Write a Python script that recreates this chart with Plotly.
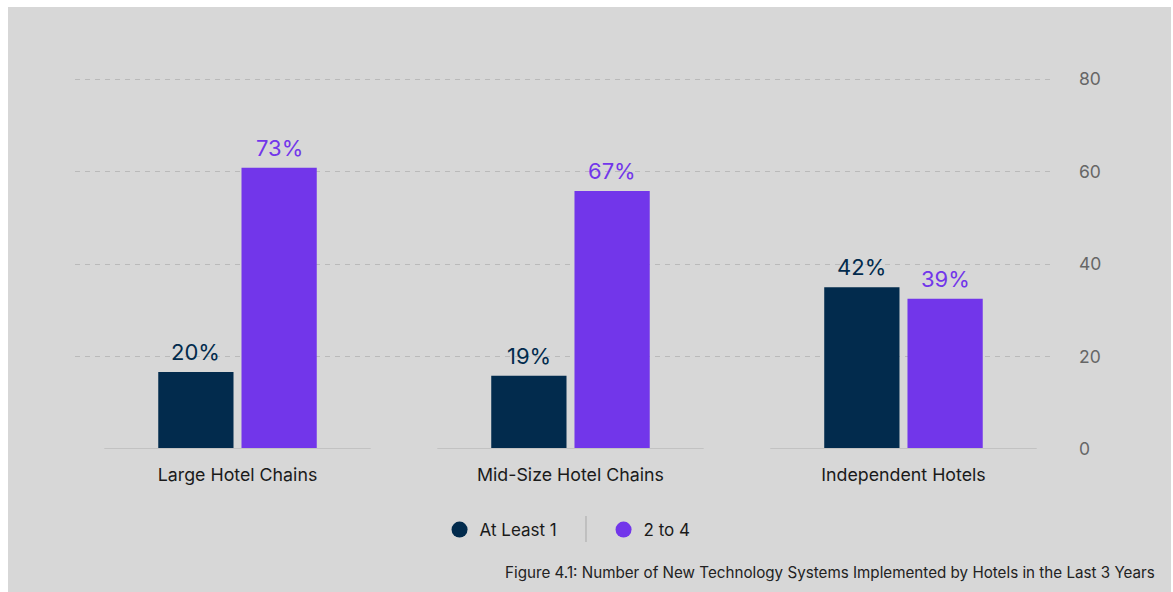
import plotly.graph_objects as go

# Hotel segments and the share of hotels in each band
categories = ["Large Hotel Chains", "Mid-Size Hotel Chains", "Independent Hotels"]
series_names = ["At Least 1", "2 to 4"]
at_least_1 = [20, 19, 42]
two_to_four = [73, 67, 39]

# Value axis: tick positions and the labels printed beside them
y_tickvals = [0, 24, 48, 72, 96]
y_ticktext = ["0", "20", "40", "60", "80"]

caption = "Figure 4.1: Number of New Technology Systems Implemented by Hotels in the Last 3 Years"

NAVY = "#022b4d"
PURPLE = "#7236ea"
PANEL = "#d7d7d7"
FONT = "Inter"

series = [(series_names[0], at_least_1, NAVY), (series_names[1], two_to_four, PURPLE)]

fig = go.Figure()

for name, values, color in series:
    fig.add_trace(go.Bar(
        x=categories, y=values, name=name,
        marker=dict(color=color, line=dict(width=0)),
        showlegend=False, hoverinfo="x+y",
    ))

# Circular legend swatches
for name, values, color in series:
    fig.add_trace(go.Scatter(
        x=[None], y=[None], mode="markers", name=name,
        marker=dict(color=color, size=18, symbol="circle"),
    ))

# Percentage labels above each bar
offsets = [-0.125, 0.125]
annotations = []
for (name, values, color), dx in zip(series, offsets):
    for i, v in enumerate(values):
        annotations.append(dict(
            x=i + dx, y=v, xref="x", yref="y", text=f"{v}%",
            showarrow=False, yanchor="bottom", yshift=5,
            font=dict(family=FONT, size=22, color=color),
        ))

annotations.append(dict(
    x=1.1097, y=-0.334, xref="paper", yref="paper", text=caption,
    showarrow=False, xanchor="right", yanchor="middle",
    font=dict(family=FONT, size=15.2, color="#222222"),
))

shapes = [
    # grey panel behind the whole chart
    dict(type="rect", xref="paper", yref="paper", x0=-0.0687, x1=1.1241,
         y0=-0.40, y1=1.1914, fillcolor=PANEL, line=dict(width=0), layer="below"),
    # divider between legend entries
    dict(type="line", xref="paper", yref="paper", x0=0.5241, x1=0.5241,
         y0=-0.1806, y1=-0.2507, line=dict(color="#b0b0b0", width=1.2)),
]
# base line under each group of bars
for i in range(len(categories)):
    shapes.append(dict(type="line", xref="x", yref="y", x0=i - 0.4, x1=i + 0.4,
                       y0=0, y1=0, line=dict(color="#c2c2c2", width=2), layer="above"))

fig.update_layout(
    width=1173, height=592, autosize=False,
    margin=dict(l=75, r=123, t=78, b=143),
    paper_bgcolor="white", plot_bgcolor=PANEL,
    font=dict(family=FONT),
    barmode="group", bargap=0.5, bargroupgap=0.096,
    showlegend=True,
    legend=dict(
        orientation="h", x=0.5421, y=-0.2183, xanchor="center", yanchor="middle",
        font=dict(family=FONT, size=17, color="#1a1a1a"),
        bgcolor="rgba(0,0,0,0)", entrywidth=119, itemsizing="trace",
    ),
    annotations=annotations,
    shapes=shapes,
    xaxis=dict(
        type="category", range=[-0.488, 2.440],
        showgrid=False, zeroline=False, showline=False, ticks="",
        tickfont=dict(family=FONT, size=17.8, color="#1a1a1a"),
        ticklabelstandoff=13, fixedrange=True,
    ),
    yaxis=dict(
        side="right", range=[0, 96.3],
        tickvals=y_tickvals, ticktext=y_ticktext,
        showgrid=True, gridcolor="#bababa", gridwidth=1, griddash="5px,5px",
        zeroline=True, zerolinecolor=PANEL, zerolinewidth=2,
        showline=False, ticks="",
        tickfont=dict(family=FONT, size=17.5, color="#666666"),
        ticklabelstandoff=28, fixedrange=True,
    ),
)

fig.write_html("out.html")
